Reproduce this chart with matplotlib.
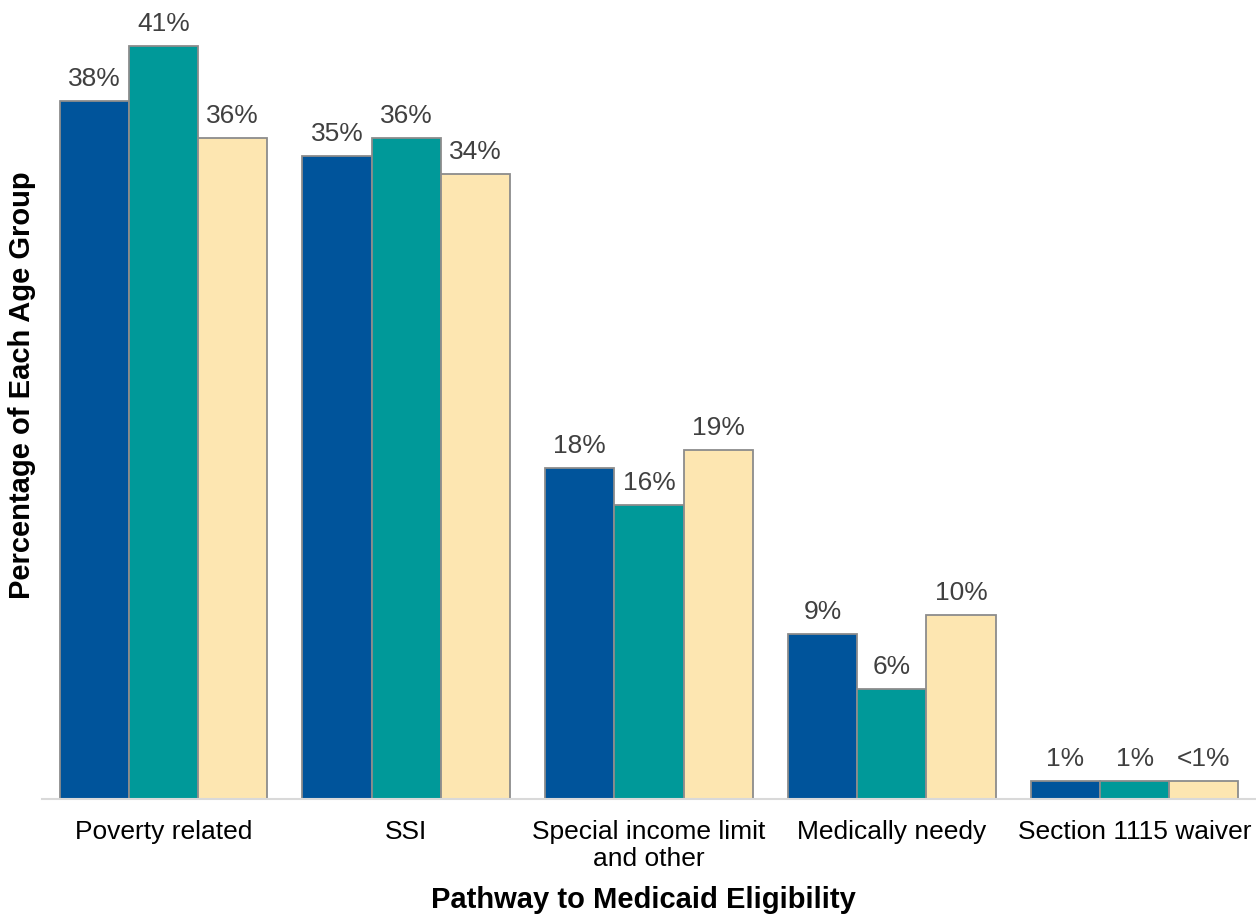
import matplotlib.pyplot as plt
import numpy as np

plt.rcParams['font.family'] = ['Liberation Sans', 'DejaVu Sans']

# pathways and the three age groups
categories = ['Poverty related', 'SSI', 'Special income limit\nand other',
              'Medically needy', 'Section 1115 waiver']
group_1 = [38, 35, 18, 9, 1]
group_2 = [41, 36, 16, 6, 1]
group_3 = [36, 34, 19, 10, 1]
labels_1 = ['38%', '35%', '18%', '9%', '1%']
labels_2 = ['41%', '36%', '16%', '6%', '1%']
labels_3 = ['36%', '34%', '19%', '10%', '<1%']

colors = ['#00549B', '#009999', '#FDE6B1']

fig = plt.figure(figsize=(12.56, 9.17), dpi=100)
ax = fig.add_axes([42 / 1256, 118 / 917, 1214 / 1256, 799 / 917])

x = np.arange(len(categories))
w = 0.285
series = [(group_1, labels_1), (group_2, labels_2), (group_3, labels_3)]
for i, (vals, labs) in enumerate(series):
    pos = x + (i - 1) * w
    ax.bar(pos, vals, width=w, color=colors[i], edgecolor='#8C8C8C', linewidth=1.3)
    for xp, v, lab in zip(pos, vals, labs):
        ax.text(xp, v + 0.55, lab, ha='center', va='bottom', fontsize=19, color='#404040')

ax.set_xlim(-0.5, 4.5)
ax.set_ylim(0, 43.5)
ax.set_yticks([])
ax.set_xticks(x)
ax.set_xticklabels(categories, fontsize=19, color='#000000', linespacing=1.15)
ax.tick_params(axis='x', length=0, pad=15)
for s in ['top', 'right', 'left']:
    ax.spines[s].set_visible(False)
ax.spines['bottom'].set_color('#D9D9D9')
ax.spines['bottom'].set_linewidth(1.5)

fig.text(643 / 1256, 1 - 900 / 917, 'Pathway to Medicaid Eligibility', ha='center', va='center',
         fontsize=21, fontweight='bold')
fig.text(22 / 1256, 1 - 385 / 917, 'Percentage of Each Age Group', ha='center', va='center',
         rotation=90, fontsize=21, fontweight='bold')

fig.savefig('out.png', dpi=100)
